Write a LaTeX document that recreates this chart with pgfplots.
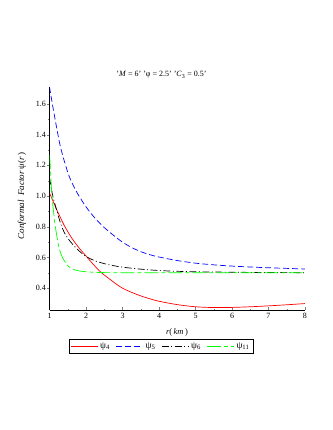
\documentclass[border=0pt]{standalone}
\usepackage{fontspec}
\setmainfont{Liberation Serif}
\usepackage{pgfplots}
\pgfplotsset{compat=1.18}

\definecolor{mred}{RGB}{255,0,0}
\definecolor{mblue}{RGB}{0,0,255}
\definecolor{mgreen}{RGB}{0,255,0}

% psi_4 .. psi_11
\pgfplotstableread{
r psi
1.0 1.02
1.1 0.965
1.2 0.91
1.3 0.86
1.4 0.81
1.6 0.73
1.8 0.665
2.0 0.61
2.2 0.555
2.4 0.505
2.6 0.468
2.8 0.432
3.0 0.40
3.25 0.373
3.5 0.35
3.75 0.331
4.0 0.315
4.5 0.293
5.0 0.279
5.5 0.274
6.0 0.275
6.5 0.279
7.0 0.285
7.5 0.292
8.0 0.30
}\psifour
\pgfplotstableread{
r psi
1.0 1.71
1.1 1.57
1.2 1.44
1.3 1.32
1.44 1.20
1.57 1.11
1.76 1.02
2.0 0.93
2.25 0.855
2.5 0.795
2.75 0.745
3.0 0.70
3.25 0.665
3.5 0.638
3.75 0.618
4.0 0.603
4.5 0.58
5.0 0.563
5.5 0.552
6.0 0.544
6.5 0.538
7.0 0.533
7.5 0.529
8.0 0.525
}\psifive
\pgfplotstableread{
r psi
1.0 1.12
1.05 1.05
1.1 0.99
1.2 0.905
1.3 0.825
1.4 0.765
1.5 0.725
1.62 0.69
1.8 0.645
2.0 0.607
2.25 0.578
2.5 0.56
2.75 0.547
3.0 0.537
3.5 0.524
4.0 0.515
4.5 0.51
5.0 0.507
6.0 0.504
7.0 0.502
8.0 0.501
}\psisix
\pgfplotstableread{
r psi
1.0 1.27
1.02 1.20
1.04 1.11
1.07 0.99
1.11 0.90
1.16 0.80
1.25 0.675
1.32 0.62
1.39 0.585
1.53 0.54
1.65 0.523
1.8 0.513
2.0 0.507
2.3 0.503
3.0 0.501
8.0 0.50
}\psieleven

\begin{document}
\begin{tikzpicture}
\path[use as bounding box] (0pt,0pt) rectangle (332pt,-430pt);
\begin{axis}[
    at={(49.5pt,-310pt)}, anchor=south west,
    scale only axis, width=255.5pt, height=223pt,
    xmin=1, xmax=8, ymin=0.258, ymax=1.71,
    axis x line*=bottom, axis y line*=left,
    xtick={1,2,3,4,5,6,7,8}, minor x tick num=1,
    ytick={0.4,0.6,0.8,1.0,1.2,1.4,1.6}, minor y tick num=1,
    yticklabel style={/pgf/number format/.cd, fixed, fixed zerofill, precision=1},
    /pgf/number format/assume math mode=true,
    tick label style={font=\fontsize{8}{9}\selectfont},
    tick align=inside,
    major tick length=3pt, minor tick length=1.5pt,
    major y tick style={xshift=-3pt},
    minor y tick style={xshift=-1.5pt},
    every axis plot/.append style={line width=0.7pt},
    legend columns=4,
    legend style={at={(axis description cs:0.436,-0.161)}, anchor=center,
        draw=black, font=\fontsize{9.5}{11}\selectfont,
        inner sep=1.5pt,
        /tikz/every even column/.append style={column sep=4pt}},
    legend image code/.code={\draw[#1] (0pt,0pt) -- (27pt,0pt);},
]
\addplot[mred, smooth] table[x=r, y=psi] {\psifour};
\addplot[mblue, smooth, dash pattern=on 6pt off 3pt] table[x=r, y=psi] {\psifive};
\addplot[black, smooth, dash pattern=on 7pt off 2.5pt on 1pt off 2.5pt] table[x=r, y=psi] {\psisix};
\addplot[mgreen, smooth, dash pattern=on 14pt off 3pt on 4pt off 3pt] table[x=r, y=psi] {\psieleven};
\legend{ψ\textsubscript{4}, ψ\textsubscript{5}, ψ\textsubscript{6}, ψ\textsubscript{11}}
\end{axis}
\node[font=\fontsize{8}{9}\selectfont] at (161.5pt,-75pt)
    {'\textit{M} = 6' 'φ = 2.5' '\textit{C}\textsubscript{3} = 0.5'};
\node[font=\fontsize{8.5}{10}\selectfont] at (177pt,-332pt) {\textit{r}(\,\textit{km}\,)};
\node[rotate=90, font=\fontsize{9}{10}\selectfont] at (22pt,-196pt)
    {\textit{Conformal\ \ Factor} ψ(\textit{r}\,)};
\end{tikzpicture}
\end{document}
